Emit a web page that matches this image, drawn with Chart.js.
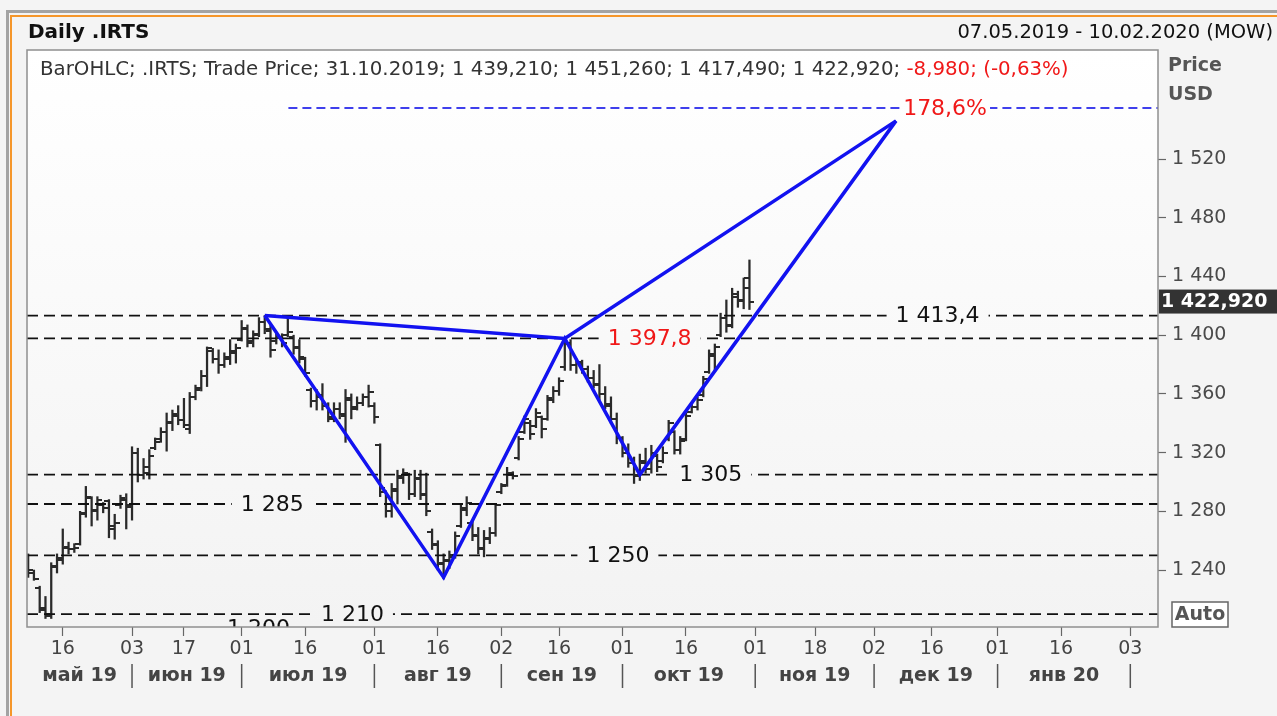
<!DOCTYPE html>
<html>
<head>
<meta charset="utf-8">
<script src="https://cdn.jsdelivr.net/npm/chart.js@4.4.1/dist/chart.umd.min.js"></script>
<style>
  html, body { margin: 0; padding: 0; background: #f4f4f4; }
  canvas { display: block; }
</style>
</head>
<body>
<canvas id="chart" width="1277" height="716"></canvas>
<script>
// daily OHLC bars of .IRTS, index 0 = first trading day shown (weekends skipped)
const opens = [1249,1238,1228,1214,1209,1242,1248,1256,1254,1258,1279,1289,1280,1284,1287,1268,1284,1288,1284,1320,
  1305,1306,1323,1329,1334,1341,1345,1342,1336,1358,1364,1372,1389,1384,1380,1384,1389,1397,1404,1396,
  1401,1409,1403,1396,1398,1400,1399,1391,1384,1363,1355,1358,1352,1343,1350,1345,1357,1351,1354,1358,
  1352,1325,1293,1280,1294,1303,1305,1292,1302,1292,1266,1257,1244,1246,1250,1270,1281,1272,1263,1254,
  1261,1265,1293,1298,1305,1316,1334,1340,1338,1344,1343,1356,1362,1378,1394,1380,1381,1377,1371,1366,
  1360,1352,1343,1330,1320,1313,1305,1313,1309,1318,1314,1329,1334,1322,1329,1348,1351,1359,1375,1386,
  1400,1412,1407,1426,1424,1439.21];
const highs = [1251,1240,1229,1222,1245,1251,1268,1259,1258,1280,1297,1290,1290,1286,1288,1278,1291,1292,1324,1323,
  1316,1322,1330,1337,1347,1349,1352,1357,1361,1366,1376,1392,1391,1390,1388,1397,1394,1410,1407,1403,
  1412,1413.4,1407,1402,1401,1413,1400,1397,1385,1364,1363,1367,1354,1354,1354,1363,1360,1358,1360,1366,
  1354,1326,1294,1299,1308,1309,1306,1308,1308,1306,1268,1260,1251,1253,1266,1285,1290,1274,1269,1267,
  1269,1285,1299,1310,1307,1331,1345,1342,1350,1345,1359,1365,1371,1398,1397,1384,1383,1379,1376,1380,
  1365,1358,1347,1331,1326,1317,1319,1323,1325,1319,1324,1342,1335,1331,1347,1353,1358,1372,1390,1394,
  1415,1424,1432,1430,1439,1451.26];
const lows = [1235,1233,1211,1207,1207,1238,1244,1251,1252,1257,1276,1270,1274,1279,1262,1261,1282,1268,1274,1300,
  1302,1302,1322,1327,1321,1335,1339,1337,1333,1356,1362,1365,1381,1374,1378,1380,1381,1396,1392,1392,
  1399,1401,1385,1394,1392,1399,1387,1381,1372,1351,1349,1349,1341,1341,1343,1327,1343,1349,1352,1351,
  1340,1290,1276,1276,1285,1299,1288,1290,1288,1277,1254,1240,1234,1241,1248,1269,1277,1260,1251,1249,
  1258,1263,1292,1297,1302,1315,1333,1329,1337,1330,1342,1354,1359,1376,1376,1374,1374,1368,1364,1356,
  1350,1340,1326,1317,1310,1299,1301,1306,1306,1307,1313,1328,1319,1319,1328,1347,1349,1358,1374,1376,
  1399,1402,1405,1419,1418,1417.49];
const closes = [1240,1234,1213,1210,1243,1247,1255,1254,1255,1278,1290,1281,1288,1282,1270,1272,1289,1283,1320,1305,
  1310,1318,1327,1334,1340,1346,1342,1339,1358,1363,1372,1391,1384,1380,1385,1388,1391,1405,1395,1400,
  1409,1404,1390,1399,1395,1402,1392,1385,1374,1355,1359,1352,1344,1350,1346,1356,1350,1354,1358,1361,
  1344,1296,1280,1295,1304,1306,1292,1303,1291,1280,1258,1245,1247,1249,1263,1282,1286,1264,1255,1262,
  1265,1284,1297,1306,1304,1329,1343,1333,1347,1336,1357,1362,1369,1395,1380,1382,1377,1371,1367,1360,
  1353,1343,1330,1320,1313,1304,1314,1309,1320,1310,1320,1340,1322,1328,1345,1351,1356,1370,1387,1392,
  1412,1406,1428,1423,1431.9,1422.92];

// time axis (trading-day index)
const xTickValues = [6, 18, 27, 37, 48, 60, 71, 82, 92, 103, 114, 126, 136.4, 146.6, 156.6, 168, 179, 191];
const xTickLabels = ["16","03","17","01","16","01","16","02","16","01","16","01","18","02","16","01","16","03"];
const monthStarts = [18, 37, 60, 82, 103, 126, 146.6, 168, 191];
const monthLabels = ["май 19","июн 19","июл 19","авг 19","сен 19","окт 19","ноя 19","дек 19","янв 20"];
const yTickValues = [1240, 1280, 1320, 1360, 1400, 1440, 1480, 1520];

// horizontal levels and the harmonic pattern
const levels = [1413.4, 1397.8, 1305, 1285, 1250, 1210, 1200];
const levelLabels = ["1 413,4", "1 397,8", "1 305", "1 285", "1 250", "1 210", "1 200"];
const targetLevel = 1554.8;
const targetLabel = "178,6%";
const patternX = [41, 72, 93, 106, 150.4];
const patternY = [1413.4, 1235, 1397.8, 1305, 1546];

// label placement (x in trading-day units) and colours
const levelLabelAt = [157.6, 107.7, 118.3, 42.3, 102.2, 56.2, 39.9];
const levelLabelColor = ["#111", "#f01818", "#111", "#111", "#111", "#111", "#111"];
const targetStart = 45.1, targetLabelAt = 158.9;
const X_MIN = -0.2, X_MAX = 195.8;
const FONT = "'DejaVu Sans', sans-serif";

function fmt(v) {
  return String(v).replace(/\B(?=(\d{3})+(?!\d))/g, " ");
}

function tickImage(side) {
  const c = document.createElement("canvas");
  c.width = 10;
  c.height = 2;
  const t = c.getContext("2d");
  t.fillStyle = "#2a2a2a";
  if (side === "left") t.fillRect(0, 0, 5, 2);
  else t.fillRect(5, 0, 5, 2);
  return c;
}

const idx = opens.map((_, i) => i);
const datasets = [];

// pattern legs X-A-B-C-D and X-B-D
datasets.push({
  type: "line", order: 0,
  data: patternX.map((x, i) => ({ x: x, y: patternY[i] })),
  borderColor: "#1212f0", borderWidth: 3.5, pointRadius: 0, borderJoinStyle: "miter",
});
datasets.push({
  type: "line", order: 0,
  data: [0, 2, 4].map(i => ({ x: patternX[i], y: patternY[i] })),
  borderColor: "#1212f0", borderWidth: 3.5, pointRadius: 0, borderJoinStyle: "miter",
});

// dashed levels
levels.forEach(v => {
  datasets.push({
    type: "line", order: 2,
    data: [{ x: X_MIN, y: v }, { x: X_MAX, y: v }],
    borderColor: "#111", borderWidth: 1.8, borderDash: [11, 6], pointRadius: 0,
  });
});
datasets.push({
  type: "line", order: 2,
  data: [{ x: targetStart, y: targetLevel }, { x: X_MAX, y: targetLevel }],
  borderColor: "#0000e6", borderWidth: 1.5, borderDash: [9, 5], pointRadius: 0,
});

// OHLC: high-low range as floating bars, open/close as side ticks
datasets.push({
  type: "bar", order: 3,
  data: idx.map(i => ({ x: i, y: [lows[i], highs[i]] })),
  backgroundColor: "#2a2a2a", barThickness: 1.6, borderWidth: 0,
});
datasets.push({
  type: "line", order: 3, showLine: false,
  data: idx.map(i => ({ x: i, y: opens[i] })),
  pointStyle: tickImage("left"), pointRadius: 1,
});
datasets.push({
  type: "line", order: 3, showLine: false,
  data: idx.map(i => ({ x: i, y: closes[i] })),
  pointStyle: tickImage("right"), pointRadius: 1,
});

const decorPlugin = {
  id: "decor",
  beforeDraw(chart) {
    const { ctx, chartArea: a, width, height } = chart;
    ctx.save();
    ctx.fillStyle = "#f4f4f4";
    ctx.fillRect(0, 0, width, height);
    ctx.fillStyle = "#a3a3a3";
    ctx.fillRect(6, 10, width, 3);
    ctx.fillRect(6, 10, 3, height);
    ctx.fillStyle = "#f5962a";
    ctx.fillRect(10, 15, width, 2);
    ctx.fillRect(10, 15, 2, height);
    const g = ctx.createLinearGradient(0, a.top, 0, a.bottom);
    g.addColorStop(0, "#ffffff");
    g.addColorStop(1, "#f3f3f3");
    chart.$bg = g;
    ctx.fillStyle = g;
    ctx.fillRect(a.left, a.top, a.right - a.left, a.bottom - a.top);
    ctx.restore();
  },
  afterDatasetsDraw(chart) {
    const { ctx, chartArea: a, scales } = chart;
    const xs = scales.x, ys = scales.y;
    ctx.save();
    ctx.beginPath();
    ctx.rect(a.left, a.top, a.right - a.left, a.bottom - a.top);
    ctx.clip();
    ctx.textAlign = "center";
    ctx.textBaseline = "middle";
    ctx.font = "22px " + FONT;
    levels.forEach((v, i) => {
      const x = xs.getPixelForValue(levelLabelAt[i]);
      const y = ys.getPixelForValue(v);
      const w = ctx.measureText(levelLabels[i]).width;
      ctx.fillStyle = chart.$bg;
      ctx.fillRect(x - w / 2 - 9, y - 4, w + 18, 8);
      ctx.fillStyle = levelLabelColor[i];
      ctx.fillText(levelLabels[i], x, y + 1);
    });
    const tx = xs.getPixelForValue(targetLabelAt);
    const ty = ys.getPixelForValue(targetLevel);
    const tw = ctx.measureText(targetLabel).width;
    ctx.fillStyle = chart.$bg;
    ctx.fillRect(tx - tw / 2 - 3, ty - 4, tw + 6, 8);
    ctx.fillStyle = "#f01818";
    ctx.fillText(targetLabel, tx, ty + 1);

    // info line
    ctx.textAlign = "left";
    ctx.font = "19.8px " + FONT;
    const part1 = "BarOHLC; .IRTS; Trade Price; 31.10.2019; 1 439,210; 1 451,260; 1 417,490; 1 422,920; ";
    ctx.fillStyle = "#333";
    ctx.fillText(part1, a.left + 13, 70);
    ctx.fillStyle = "#f01818";
    ctx.fillText("-8,980; (-0,63%)", a.left + 13 + ctx.measureText(part1).width, 70);
    ctx.restore();
  },
  afterDraw(chart) {
    const { ctx, chartArea: a, scales, width } = chart;
    const xs = scales.x, ys = scales.y;
    ctx.save();
    // plot frame
    ctx.strokeStyle = "#8f8f8f";
    ctx.lineWidth = 1.5;
    ctx.strokeRect(a.left, a.top, a.right - a.left, a.bottom - a.top);

    // header
    ctx.textBaseline = "middle";
    ctx.fillStyle = "#111";
    ctx.font = "bold 20px " + FONT;
    ctx.textAlign = "left";
    ctx.fillText("Daily .IRTS", 28, 33);
    ctx.font = "19.5px " + FONT;
    ctx.textAlign = "right";
    ctx.fillText("07.05.2019 - 10.02.2020 (MOW)", 1273, 33);

    // axis caption
    ctx.textAlign = "left";
    ctx.fillStyle = "#555";
    ctx.font = "bold 19px " + FONT;
    ctx.fillText("Price", a.right + 10, 66);
    ctx.fillText("USD", a.right + 10, 95);

    // last price box
    const last = closes[closes.length - 1];
    const ly = ys.getPixelForValue(last);
    ctx.fillStyle = "#333";
    ctx.fillRect(a.right + 1, ly - 12, width - a.right - 1, 24);
    ctx.fillStyle = "#fff";
    ctx.font = "bold 19px " + FONT;
    ctx.fillText(fmt(Math.floor(last)) + "," + last.toFixed(3).split(".")[1], a.right + 3, ly + 1);

    // Auto box
    ctx.fillStyle = "#fff";
    ctx.fillRect(1172, 602, 56, 25);
    ctx.strokeStyle = "#666";
    ctx.lineWidth = 1.5;
    ctx.strokeRect(1172, 602, 56, 25);
    ctx.fillStyle = "#555";
    ctx.font = "bold 19px " + FONT;
    ctx.textAlign = "center";
    ctx.fillText("Auto", 1200, 615);

    // month row
    ctx.fillStyle = "#444";
    ctx.strokeStyle = "#555";
    ctx.lineWidth = 1.5;
    let prev = xs.min;
    monthStarts.forEach((m, i) => {
      const x = xs.getPixelForValue(m);
      ctx.beginPath();
      ctx.moveTo(x, 664);
      ctx.lineTo(x, 688);
      ctx.stroke();
      const cx = (xs.getPixelForValue(prev) + x) / 2;
      ctx.fillText(monthLabels[i], cx, 676);
      prev = m;
    });
    ctx.restore();
  },
};

new Chart(document.getElementById("chart"), {
  type: "bar",
  data: { datasets: datasets },
  plugins: [decorPlugin],
  options: {
    responsive: false,
    animation: false,
    events: [],
    layout: { padding: { left: 27, top: 50, right: 0, bottom: 0 } },
    plugins: { legend: { display: false }, tooltip: { enabled: false } },
    scales: {
      x: {
        type: "linear", min: X_MIN, max: X_MAX, offset: false,
        afterFit: s => { s.height = 89; },
        afterBuildTicks: s => { s.ticks = xTickValues.map(v => ({ value: v })); },
        grid: { drawOnChartArea: false, offset: false, tickLength: 9, tickColor: "#666", tickWidth: 1.2 },
        border: { display: false },
        ticks: {
          autoSkip: false, maxRotation: 0, minRotation: 0, padding: 2,
          color: "#444", font: { family: FONT, size: 19 },
          callback: (v, i) => xTickLabels[i],
        },
      },
      y: {
        type: "linear", position: "right", min: 1201.2, max: 1594.3,
        afterFit: s => { s.width = 119; },
        afterBuildTicks: s => { s.ticks = yTickValues.map(v => ({ value: v })); },
        grid: { drawOnChartArea: false, tickLength: 8, tickColor: "#666", tickWidth: 1.2 },
        border: { display: false },
        ticks: {
          padding: 6, color: "#4a4a4a", font: { family: FONT, size: 19 },
          callback: v => fmt(v),
        },
      },
    },
  },
});
</script>
</body>
</html>
